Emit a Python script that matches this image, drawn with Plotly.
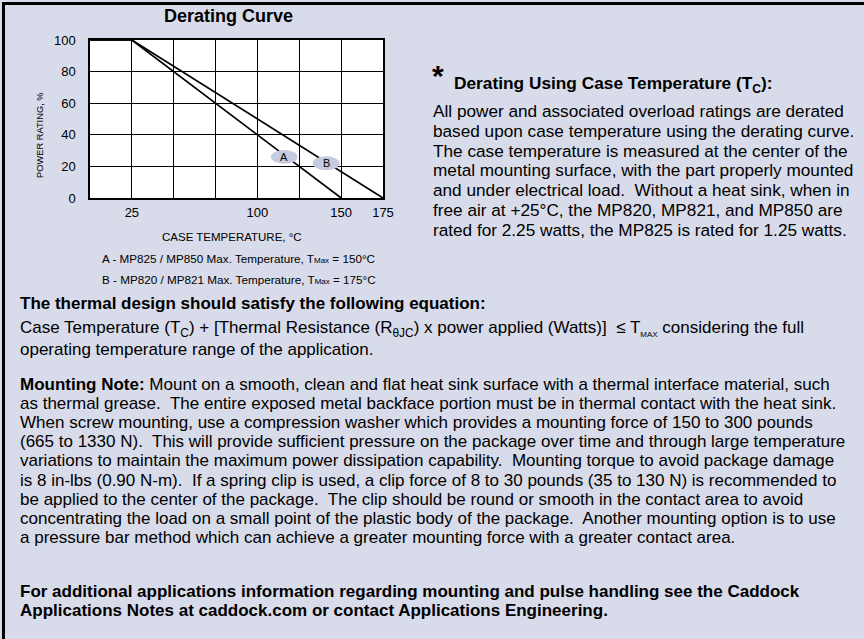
import plotly.graph_objects as go

W, H = 864, 639

# ---- data ----
temp_a = [0, 25, 150]
power_a = [100, 100, 0]
temp_b = [0, 25, 175]
power_b = [100, 100, 0]
x_ticks = [25, 100, 150, 175]
x_grid_step = 25
y_ticks = [0, 20, 40, 60, 80, 100]
curve_labels = ["A", "B"]
label_temp = [116, 141]
label_power = [26, 22]

BG = "#d8dbe9"
LABEL_BG = "#c6cbe0"
SANS = "Liberation Sans, Arial, Helvetica, sans-serif"

def px(x):
    return x / W

def py(y):
    return 1 - y / H

fig = go.Figure()
fig.add_trace(go.Scatter(x=temp_a, y=power_a, mode="lines",
                         line=dict(color="black", width=1.7), hoverinfo="skip"))
fig.add_trace(go.Scatter(x=temp_b, y=power_b, mode="lines",
                         line=dict(color="black", width=1.7), hoverinfo="skip"))

shapes = []
for lx, ly in zip(label_temp, label_power):
    shapes.append(dict(type="circle", xref="x", yref="y",
                       x0=lx - 8, x1=lx + 8, y0=ly - 4.4, y1=ly + 4.4,
                       fillcolor=LABEL_BG, line=dict(width=0), layer="above"))
# outer frame
shapes.append(dict(type="rect", xref="paper", yref="paper",
                   x0=px(3.5), x1=px(870), y0=py(645), y1=py(3.5),
                   line=dict(color="black", width=3), layer="below"))

ann = []
for t, lx, ly in zip(curve_labels, label_temp, label_power):
    ann.append(dict(x=lx, y=ly, xref="x", yref="y", text=t, showarrow=False,
                    font=dict(family=SANS, size=11, color="black")))

def txt(x, y, text, size, anchor="left", bold=False):
    if bold:
        text = "<b>" + text + "</b>"
    ann.append(dict(x=px(x), y=py(y), xref="paper", yref="paper", text=text,
                    showarrow=False, xanchor=anchor, yanchor="middle",
                    font=dict(family=SANS, size=size, color="black")))

# chart texts
txt(228, 16, "Derating Curve", 18, anchor="center", bold=True)
ann.append(dict(x=px(40), y=py(135), xref="paper", yref="paper",
                text="POWER RATING, %", textangle=-90, showarrow=False,
                xanchor="center", yanchor="middle",
                font=dict(family=SANS, size=9.3, color="black")))
txt(232, 237, "CASE TEMPERATURE, °C", 11.5, anchor="center")
small = '<span style="font-size:8px">Max</span>'
txt(239, 258, "A - MP825 / MP850 Max. Temperature, T" + small + " = 150°C", 11.7, anchor="center")
txt(239, 279, "B - MP820 / MP821 Max. Temperature, T" + small + " = 175°C", 11.7, anchor="center")

# right block
txt(430, 76, "*", 30, bold=True)
txt(452, 84, "Derating Using Case Temperature (T<sub>C</sub>):", 17.3, bold=True)
right_lines = [
    "All power and associated overload ratings are derated",
    "based upon case temperature using the derating curve.",
    "The case temperature is measured at the center of the",
    "metal mounting surface, with the part properly mounted",
    "and under electrical load.  Without a heat sink, when in",
    "free air at +25°C, the MP820, MP821, and MP850 are",
    "rated for 2.25 watts, the MP825 is rated for 1.25 watts.",
]
for i, line in enumerate(right_lines):
    txt(431, 111 + i * 19.8, line, 17.2)

# lower block
LS = 17.0
txt(18, 303, "The thermal design should satisfy the following equation:", LS, bold=True)
txt(18, 329, "Case Temperature (T<sub>C</sub>) + [Thermal Resistance (R<sub>θJC</sub>) x power applied (Watts)]  ≤ T<sub><span style='font-size:8px'>MAX</span></sub> considering the full", LS)
txt(18, 349, "operating temperature range of the application.", LS)
mount_lines = [
    "<b>Mounting Note:</b> Mount on a smooth, clean and flat heat sink surface with a thermal interface material, such",
    "as thermal grease.  The entire exposed metal backface portion must be in thermal contact with the heat sink.",
    "When screw mounting, use a compression washer which provides a mounting force of 150 to 300 pounds",
    "(665 to 1330 N).  This will provide sufficient pressure on the package over time and through large temperature",
    "variations to maintain the maximum power dissipation capability.  Mounting torque to avoid package damage",
    "is 8 in-lbs (0.90 N-m).  If a spring clip is used, a clip force of 8 to 30 pounds (35 to 130 N) is recommended to",
    "be applied to the center of the package.  The clip should be round or smooth in the contact area to avoid",
    "concentrating the load on a small point of the plastic body of the package.  Another mounting option is to use",
    "a pressure bar method which can achieve a greater mounting force with a greater contact area.",
]
for i, line in enumerate(mount_lines):
    txt(18, 384 + i * 19.2, line, LS)
txt(18, 591, "For additional applications information regarding mounting and pulse handling see the Caddock", LS, bold=True)
txt(18, 610, "Applications Notes at caddock.com or contact Applications Engineering.", LS, bold=True)

fig.update_layout(
    width=W, height=H,
    margin=dict(l=0, r=0, t=0, b=0),
    paper_bgcolor=BG, plot_bgcolor="white",
    showlegend=False,
    shapes=shapes, annotations=ann,
    xaxis=dict(domain=[px(90), px(383)], range=[0, 175],
               tickmode="array", tickvals=x_ticks,
               showgrid=True, gridcolor="black", gridwidth=1,
               minor=dict(tick0=0, dtick=x_grid_step, showgrid=True,
                          gridcolor="black", gridwidth=1, ticks=""),
               showline=True, mirror=True, linecolor="black", linewidth=1.5,
               zeroline=False, ticks="", automargin=False,
               tickfont=dict(family=SANS, size=13, color="black"),
               ticklabelstandoff=2, fixedrange=True),
    yaxis=dict(domain=[py(198), py(40)], range=[0, 100],
               tickmode="array", tickvals=y_ticks,
               showgrid=True, gridcolor="black", gridwidth=1,
               showline=True, mirror=True, linecolor="black", linewidth=1.5,
               zeroline=False, ticks="", automargin=False,
               tickfont=dict(family=SANS, size=13, color="black"),
               ticklabelstandoff=10, fixedrange=True),
)

fig.write_html("out.html", config={"displayModeBar": False},
               post_script="document.body.style.margin='0';")
